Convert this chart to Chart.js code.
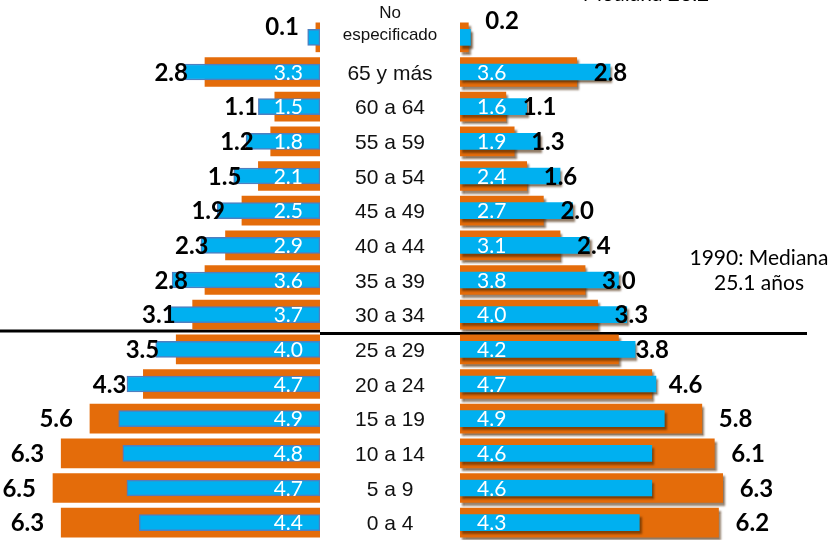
<!DOCTYPE html>
<html>
<head>
<meta charset="utf-8">
<script src="https://cdn.jsdelivr.net/npm/chart.js@4.4.0/dist/chart.umd.min.js"></script>
<style>
    html, body { margin: 0; padding: 0; background: #fff; }
    #wrap { position: relative; width: 834px; height: 542px; overflow: hidden; }
    canvas { position: absolute; top: 0; }
    #graficoIzq { left: 0; }
    #graficoDer { left: 320px; }
</style>
</head>
<body>
<div id="wrap">
    <canvas id="graficoIzq" width="320" height="542"></canvas>
    <canvas id="graficoDer" width="514" height="542"></canvas>
</div>
<script>
// grupos de edad, de arriba hacia abajo
const grupos = ['No especificado', '65 y más', '60 a 64', '55 a 59', '50 a 54', '45 a 49', '40 a 44',
    '35 a 39', '30 a 34', '25 a 29', '20 a 24', '15 a 19', '10 a 14', '5 a 9', '0 a 4'];

// lado izquierdo (%)
const izq1990 = [0.1, 2.8, 1.1, 1.2, 1.5, 1.9, 2.3, 2.8, 3.1, 3.5, 4.3, 5.6, 6.3, 6.5, 6.3];
const izqActual = [0.3, 3.3, 1.5, 1.8, 2.1, 2.5, 2.9, 3.6, 3.7, 4.0, 4.7, 4.9, 4.8, 4.7, 4.4];

// lado derecho (%)
const der1990 = [0.2, 2.8, 1.1, 1.3, 1.6, 2.0, 2.4, 3.0, 3.3, 3.8, 4.6, 5.8, 6.1, 6.3, 6.2];
const derActual = [0.25, 3.6, 1.6, 1.9, 2.4, 2.7, 3.1, 3.8, 4.0, 4.2, 4.7, 4.9, 4.6, 4.6, 4.3];

const notaMediana1990 = ['1990: Mediana', '25.1 años'];
const notaMedianaActual = 'Mediana 26.2';
const grupoLinea = '30 a 34';

const NARANJA = '#E46C0A';
const AZUL = '#00B0F0';

// linea negra horizontal (debajo de 30 a 34)
const lineaMediana = {
    id: 'lineaMediana',
    beforeDatasetsDraw(chart, args, opts) {
        const y = chart.scales.y;
        const i = grupos.indexOf(grupoLinea);
        const py = (y.getPixelForValue(i) + y.getPixelForValue(i + 1)) / 2 + (opts.dy || 0);
        const ctx = chart.ctx;
        ctx.save();
        ctx.strokeStyle = '#000';
        ctx.lineWidth = 3;
        ctx.beginPath();
        ctx.moveTo(opts.x0, py);
        ctx.lineTo(opts.x1, py);
        ctx.stroke();
        ctx.restore();
    }
};

// sombra para las barras del lado derecho
const sombra = {
    id: 'sombra',
    beforeDatasetDraw(chart) {
        const ctx = chart.ctx;
        ctx.save();
        ctx.shadowColor = 'rgba(70, 35, 0, 0.6)';
        ctx.shadowOffsetX = 2;
        ctx.shadowOffsetY = 3;
        ctx.shadowBlur = 2;
    },
    afterDatasetDraw(chart) {
        chart.ctx.restore();
    }
};

// grupos de edad en el centro
const rotulosCentro = {
    id: 'rotulosCentro',
    afterDraw(chart) {
        const y = chart.scales.y;
        const ctx = chart.ctx;
        const cx = chart.chartArea.left / 2;
        ctx.save();
        ctx.fillStyle = '#111';
        ctx.textAlign = 'center';
        ctx.textBaseline = 'middle';
        grupos.forEach((g, i) => {
            const py = y.getPixelForValue(i);
            if (g === 'No especificado') {
                ctx.font = '17px "Liberation Sans"';
                ctx.fillText('No', cx, py - 24);
                ctx.fillText('especificado', cx, py - 2);
            } else {
                ctx.font = '21px "Liberation Sans"';
                ctx.fillText(g, cx, py + 2);
            }
        });
        ctx.restore();
    }
};

// valores sobre las barras
const etiquetas = {
    id: 'etiquetas',
    afterDatasetsDraw(chart, args, opts) {
        const ctx = chart.ctx;
        const izq = opts.lado === 'izq';
        const dir = izq ? -1 : 1;
        ctx.save();
        ctx.textAlign = izq ? 'right' : 'left';
        ctx.textBaseline = 'middle';
        chart.data.datasets.forEach((ds, di) => {
            const meta = chart.getDatasetMeta(di);
            meta.data.forEach((bar, i) => {
                const v = ds.data[i];
                if (ds.tipo === '1990') {
                    const dy = i === 0 ? (izq ? -10 : -16) : 1;
                    ctx.font = 'bold 24px Lato';
                    ctx.fillStyle = '#000';
                    ctx.fillText(v.toFixed(1), bar.x + dir * 17, bar.y + dy);
                } else {
                    if (i === 0) return;
                    ctx.font = '21px Lato';
                    ctx.fillStyle = '#fff';
                    ctx.fillText(v.toFixed(1), bar.base + dir * 17, bar.y + 1);
                }
            });
        });
        ctx.restore();
    }
};

// notas de mediana
const notas = {
    id: 'notas',
    afterDraw(chart) {
        const ctx = chart.ctx;
        ctx.save();
        ctx.fillStyle = '#000';
        ctx.font = '21px Lato';
        ctx.textAlign = 'center';
        ctx.textBaseline = 'middle';
        ctx.fillText(notaMediana1990[0], 439, 258);
        ctx.fillText(notaMediana1990[1], 439, 283);
        ctx.textBaseline = 'alphabetic';
        ctx.fillText(notaMedianaActual, 326, 1);
        ctx.restore();
    }
};

function crearDatasets(v1990, vActual, lado) {
    const der = lado === 'der';
    return [{
        label: '1990',
        tipo: '1990',
        data: v1990,
        backgroundColor: NARANJA,
        borderWidth: 0,
        barThickness: 29,
        grouped: false,
        order: 2
    }, {
        label: 'Actual',
        tipo: 'actual',
        data: vActual,
        backgroundColor: AZUL,
        borderColor: der ? AZUL : '#4F7FC0',
        borderWidth: der ? 0 : 1.5,
        borderSkipped: false,
        barThickness: 16,
        grouped: false,
        order: 1
    }];
}

function initCharts() {
    Chart.defaults.font.family = 'Lato';

    new Chart(document.getElementById('graficoIzq'), {
        type: 'bar',
        data: { labels: grupos, datasets: crearDatasets(izq1990, izqActual, 'izq') },
        options: {
            indexAxis: 'y',
            responsive: false,
            animation: false,
            layout: { padding: { top: 20, bottom: 2, left: 0, right: 0 } },
            scales: {
                x: { display: false, reverse: true, min: 0, max: 7.79 },
                y: { display: false }
            },
            plugins: {
                legend: { display: false },
                tooltip: { enabled: false },
                lineaMediana: { x0: 0, x1: 320, dy: -1 },
                etiquetas: { lado: 'izq' }
            }
        },
        plugins: [lineaMediana, etiquetas]
    });

    new Chart(document.getElementById('graficoDer'), {
        type: 'bar',
        data: { labels: grupos, datasets: crearDatasets(der1990, derActual, 'der') },
        options: {
            indexAxis: 'y',
            responsive: false,
            animation: false,
            layout: { padding: { top: 20, bottom: 2, left: 140, right: 0 } },
            scales: {
                x: { display: false, min: 0, max: 8.97 },
                y: { display: false }
            },
            plugins: {
                legend: { display: false },
                tooltip: { enabled: false },
                lineaMediana: { x0: 0, x1: 487, dy: 1.5 },
                etiquetas: { lado: 'der' }
            }
        },
        plugins: [lineaMediana, sombra, etiquetas, rotulosCentro, notas]
    });
}

document.addEventListener('DOMContentLoaded', initCharts);
</script>
</body>
</html>
